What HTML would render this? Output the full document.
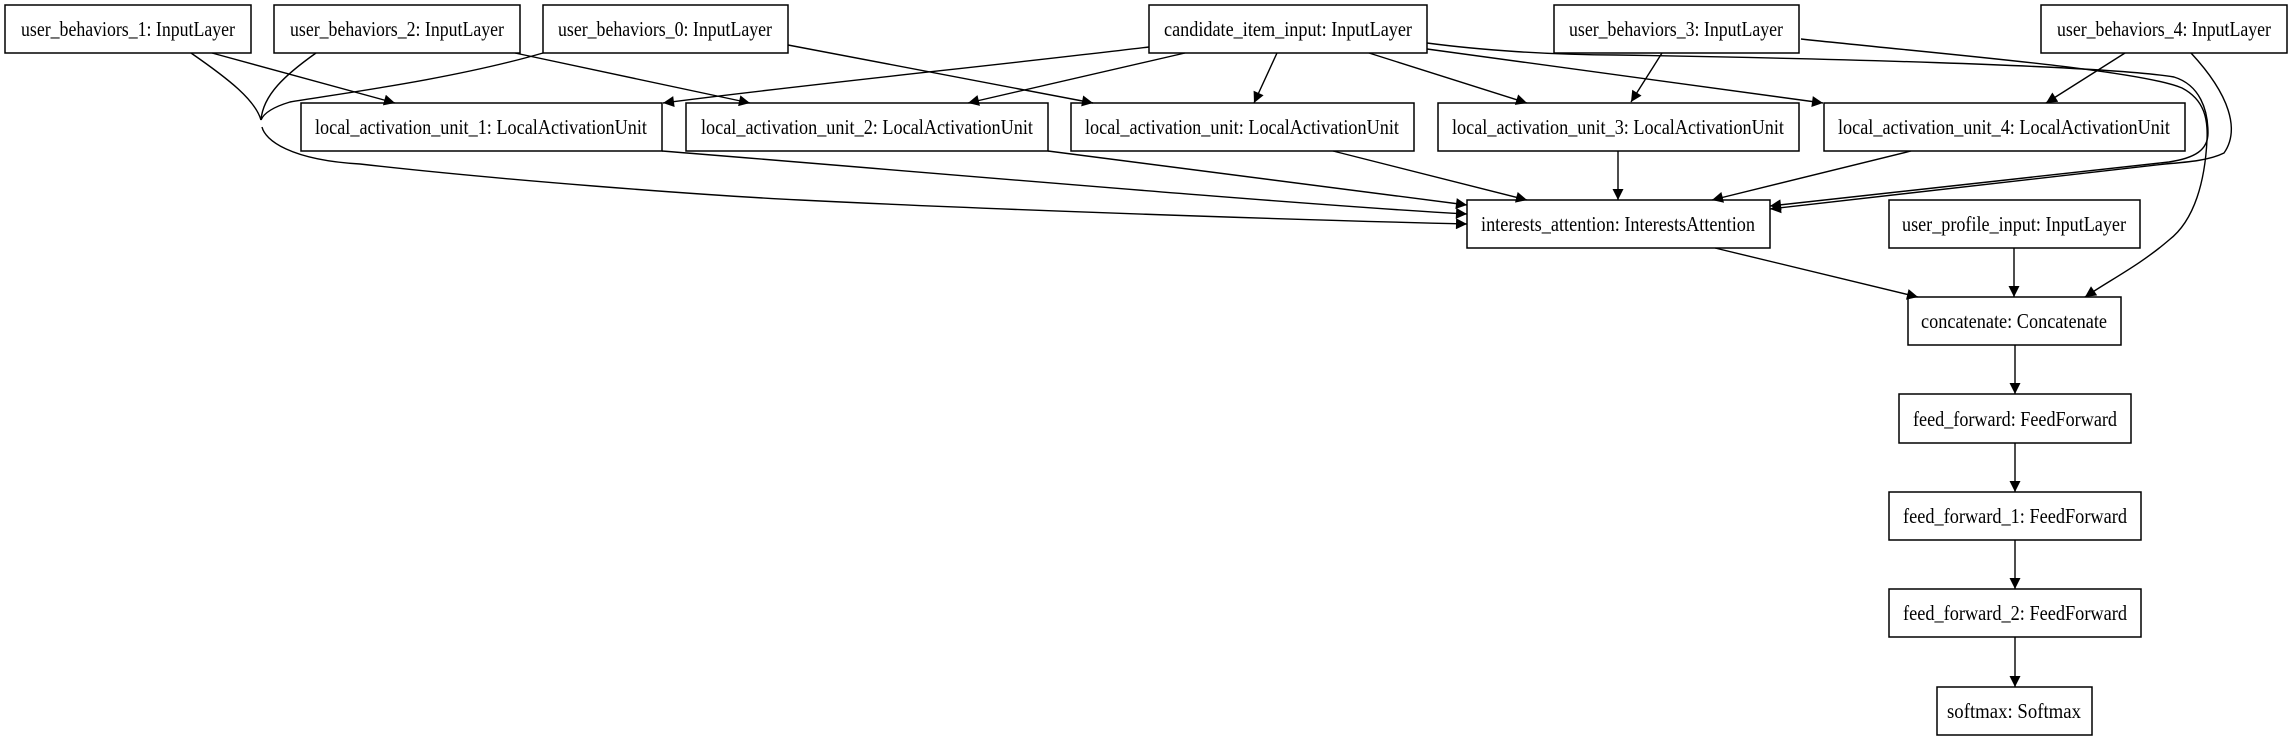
<!DOCTYPE html>
<html><head><meta charset="utf-8"><style>
html,body{margin:0;padding:0;background:#fff;}
svg{display:block;}
text{font-family:"Liberation Serif",serif;font-size:21px;fill:#000;}
</style></head><body>
<svg width="2292" height="741" viewBox="0 0 2292 741" xmlns="http://www.w3.org/2000/svg">
<defs>
<marker id="a" viewBox="0 0 10 10" refX="10" refY="5" markerWidth="15" markerHeight="11" markerUnits="userSpaceOnUse" orient="auto">
<path d="M0,0 L10,5 L0,10 z" fill="#000"/></marker>
</defs>
<g fill="#fff" stroke="#000" stroke-width="1.5">
<rect x="5" y="5" width="246" height="48"/>
<rect x="274" y="5" width="246" height="48"/>
<rect x="543" y="5" width="245" height="48"/>
<rect x="1149" y="5" width="278" height="48"/>
<rect x="1554" y="5" width="245" height="48"/>
<rect x="2041" y="5" width="246" height="48"/>
<rect x="301" y="103" width="361" height="48"/>
<rect x="686" y="103" width="362" height="48"/>
<rect x="1071" y="103" width="343" height="48"/>
<rect x="1438" y="103" width="361" height="48"/>
<rect x="1824" y="103" width="361" height="48"/>
<rect x="1467" y="200" width="303" height="48"/>
<rect x="1889" y="200" width="251" height="48"/>
<rect x="1908" y="297" width="213" height="48"/>
<rect x="1899" y="394" width="232" height="49"/>
<rect x="1889" y="492" width="252" height="48"/>
<rect x="1889" y="589" width="252" height="48"/>
<rect x="1937" y="687" width="155" height="48"/>
</g>
<g text-anchor="middle">
<text x="128" y="36" textLength="214" lengthAdjust="spacingAndGlyphs">user_behaviors_1: InputLayer</text>
<text x="397" y="36" textLength="214" lengthAdjust="spacingAndGlyphs">user_behaviors_2: InputLayer</text>
<text x="665" y="36" textLength="214" lengthAdjust="spacingAndGlyphs">user_behaviors_0: InputLayer</text>
<text x="1288" y="36" textLength="248" lengthAdjust="spacingAndGlyphs">candidate_item_input: InputLayer</text>
<text x="1676" y="36" textLength="214" lengthAdjust="spacingAndGlyphs">user_behaviors_3: InputLayer</text>
<text x="2164" y="36" textLength="214" lengthAdjust="spacingAndGlyphs">user_behaviors_4: InputLayer</text>
<text x="481" y="134" textLength="332" lengthAdjust="spacingAndGlyphs">local_activation_unit_1: LocalActivationUnit</text>
<text x="867" y="134" textLength="332" lengthAdjust="spacingAndGlyphs">local_activation_unit_2: LocalActivationUnit</text>
<text x="1242" y="134" textLength="314" lengthAdjust="spacingAndGlyphs">local_activation_unit: LocalActivationUnit</text>
<text x="1618" y="134" textLength="332" lengthAdjust="spacingAndGlyphs">local_activation_unit_3: LocalActivationUnit</text>
<text x="2004" y="134" textLength="332" lengthAdjust="spacingAndGlyphs">local_activation_unit_4: LocalActivationUnit</text>
<text x="1618" y="231" textLength="274" lengthAdjust="spacingAndGlyphs">interests_attention: InterestsAttention</text>
<text x="2014" y="231" textLength="224" lengthAdjust="spacingAndGlyphs">user_profile_input: InputLayer</text>
<text x="2014" y="328" textLength="186" lengthAdjust="spacingAndGlyphs">concatenate: Concatenate</text>
<text x="2015" y="426" textLength="204" lengthAdjust="spacingAndGlyphs">feed_forward: FeedForward</text>
<text x="2015" y="523" textLength="224" lengthAdjust="spacingAndGlyphs">feed_forward_1: FeedForward</text>
<text x="2015" y="620" textLength="224" lengthAdjust="spacingAndGlyphs">feed_forward_2: FeedForward</text>
<text x="2014" y="718" textLength="134" lengthAdjust="spacingAndGlyphs">softmax: Softmax</text>
</g>
<g fill="none" stroke="#000" stroke-width="1.4">
<path d="M212,53 L395,103" marker-end="url(#a)"/>
<path d="M515,53 L750,103" marker-end="url(#a)"/>
<path d="M788,45 L1093,103" marker-end="url(#a)"/>
<path d="M191,53 C230,80 255,100 261,120"/>
<path d="M316,53 C285,75 263,95 261,120"/>
<path d="M543,53 C450,80 330,95 290,102 C270,108 263,115 261,120"/>
<path d="M262,127 C265,140 290,160 360,164 C500,180 700,195 800,200 C1000,210 1300,220 1467,224" marker-end="url(#a)"/>
<path d="M662,151 C900,170 1300,205 1467,214" marker-end="url(#a)"/>
<path d="M1048,151 L1467,205" marker-end="url(#a)"/>
<path d="M1333,151 L1527,200" marker-end="url(#a)"/>
<path d="M1149,47 C1000,65 800,85 663,103" marker-end="url(#a)"/>
<path d="M1185,53 L968,103" marker-end="url(#a)"/>
<path d="M1277,53 L1254,103" marker-end="url(#a)"/>
<path d="M1369,53 L1527,103" marker-end="url(#a)"/>
<path d="M1427,49 L1823,103" marker-end="url(#a)"/>
<path d="M1662,53 L1631,102" marker-end="url(#a)"/>
<path d="M2125,53 L2046,103" marker-end="url(#a)"/>
<path d="M1427,43 C1480,50 1550,55 1616,55 C1800,58 2100,65 2174,77 C2200,85 2208,110 2208,133 C2208,150 2195,158 2169,162 L1770,206" marker-end="url(#a)"/>
<path d="M1801,39 C1950,55 2140,70 2182,88 C2205,100 2208,120 2207,140 C2205,180 2195,220 2169,240 C2140,265 2110,280 2085,297" marker-end="url(#a)"/>
<path d="M2191,53 C2230,95 2240,130 2224,153 C2210,160 2190,162 2165,164 L1770,209" marker-end="url(#a)"/>
<path d="M1618,151 L1618,200" marker-end="url(#a)"/>
<path d="M1911,151 L1712,200" marker-end="url(#a)"/>
<path d="M1715,248 L1918,297" marker-end="url(#a)"/>
<path d="M2014,248 L2014,297" marker-end="url(#a)"/>
<path d="M2015,345 L2015,394" marker-end="url(#a)"/>
<path d="M2015,443 L2015,492" marker-end="url(#a)"/>
<path d="M2015,540 L2015,589" marker-end="url(#a)"/>
<path d="M2015,637 L2015,687" marker-end="url(#a)"/>
</g>
</svg>
</body></html>
